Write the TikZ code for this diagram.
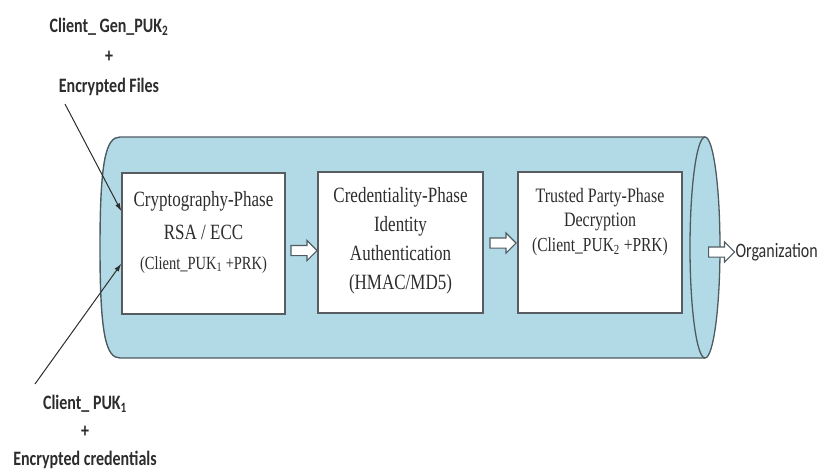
\documentclass[tikz,border=0pt]{standalone}
\usepackage{fontspec}
\setmainfont{Liberation Serif}
\newfontfamily\labfont{Carlito}
\usetikzlibrary{shapes.arrows,arrows.meta,calc}

\definecolor{tubefill}{RGB}{178,218,230}
\definecolor{tubeline}{RGB}{78,92,98}
\definecolor{boxline}{RGB}{88,92,96}
\definecolor{inktext}{RGB}{45,45,45}

% narrow, tall lettering
\newcommand\stretchline[1]{\scalebox{1}[1.28]{#1}}

\begin{document}
\begin{tikzpicture}[x=1pt,y=-1pt,
  phasebox/.style={draw=boxline,line width=1.3pt,fill=white,minimum width=164pt,minimum height=141pt,inner sep=0pt},
  phasetext/.style={align=center,text=inktext,inner sep=0pt},
  flowarrow/.style={single arrow,draw=tubeline,line width=1.1pt,fill=white,minimum height=26pt,
    inner sep=4.5pt,single arrow head extend=5pt,single arrow head indent=0pt},
  sidelabel/.style={align=center,text=inktext,inner sep=0pt,font=\labfont\bfseries\fontsize{16}{30}\selectfont},
  inarrow/.style={draw=inktext,line width=1pt,-{Latex[length=8pt,width=5pt]}}
]
\useasboundingbox (0,0) rectangle (825,474);

% tube body
\fill[tubefill] (120,137) -- (705,137) -- (705,358) -- (120,358)
  .. controls (106,358) and (100,335) .. (100,247.5)
  .. controls (100,160) and (106,137) .. (120,137) -- cycle;
\draw[tubeline,line width=1.4pt] (705,137) -- (120,137)
  .. controls (106,137) and (100,160) .. (100,247.5)
  .. controls (100,335) and (106,358) .. (120,358) -- (705,358);
% tube end face
\draw[tubeline,line width=1.3pt,fill=tubefill] (705,247.5) ellipse [x radius=15, y radius=110.5];

% phase boxes
\node[phasebox,minimum width=163pt] (b1) at (203.5,243.5) {};
\node[phasebox,minimum width=165pt] (b2) at (400.5,242.5) {};
\node[phasebox] (b3) at (600,242.5) {};

\node[phasetext,font=\fontsize{17}{33}\selectfont] (t1) at (203.5,232)
  {\stretchline{Cryptography-Phase}\\\stretchline{RSA / ECC}\\[-3pt]
   {\fontsize{14.5}{16}\selectfont\stretchline{(Client\_PUK\textsubscript{1} +PRK)}}};
\node[phasetext,font=\fontsize{17}{29}\selectfont] (t2) at (400.5,241)
  {\stretchline{Credentiality-Phase}\\\stretchline{Identity}\\\stretchline{Authentication}\\\stretchline{(HMAC/MD5)}};
\node[phasetext,font=\fontsize{16}{24.5}\selectfont] (t3) at (600,222)
  {\stretchline{Trusted Party-Phase}\\\stretchline{Decryption}\\
   {\fontsize{15.5}{16}\selectfont\stretchline{(Client\_PUK\textsubscript{2} +PRK)}}};

% flow between phases
\node[flowarrow] (a1) at ($(b1.east)!0.5!(b2.west)+(0,7.5)$) {};
\node[flowarrow] (a2) at ($(b2.east)!0.5!(b3.west)+(0,0.5)$) {};
\node[flowarrow,anchor=west] (a3) at (708,252) {};
\node[anchor=west,inner sep=0pt,text=inktext,font=\labfont\fontsize{16}{18}\selectfont] (org) at (a3.east) {\stretchline{Organization}};

% inputs
\node[sidelabel] (inA) at (109,57) {\stretchline{Client\_ Gen\_PUK\textsubscript{2}}\\\stretchline{+}\\\stretchline{Encrypted Files}};
\node[sidelabel,font=\labfont\bfseries\fontsize{16}{28}\selectfont] (inB) at (85,432)
  {\stretchline{Client\_ PUK\textsubscript{1}}\\\stretchline{+}\\\stretchline{Encrypted credentials}};
\coordinate (sA) at (65,104);
\coordinate (sB) at (35,384);
\draw[inarrow] (sA) -- ($(b1.north west)+(0,39)$);
\draw[inarrow] (sB) -- ($(b1.south west)+(0,-51)$);
\end{tikzpicture}
\end{document}
